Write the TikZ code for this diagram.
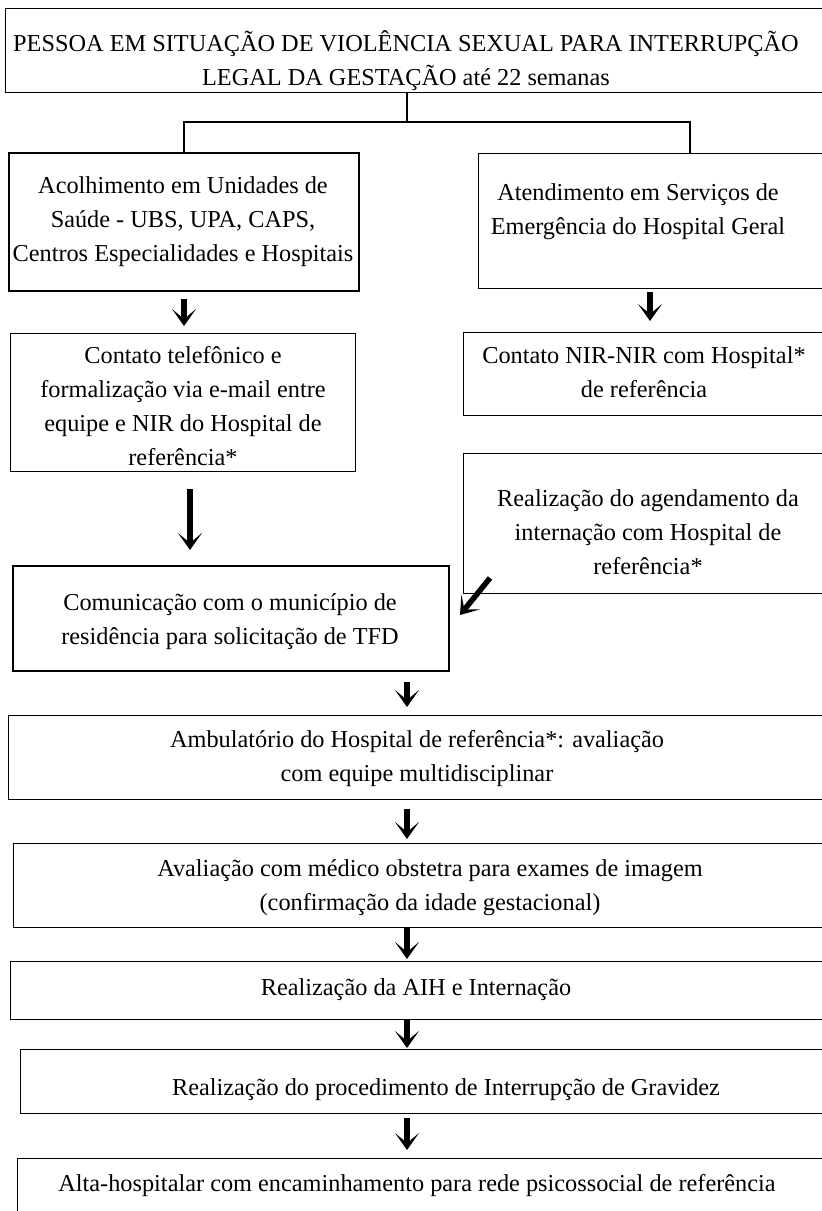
\documentclass[tikz,border=0pt]{standalone}
\usepackage{fontspec}
\setmainfont{Liberation Serif}
\usetikzlibrary{arrows.meta}
\begin{document}
\begin{tikzpicture}[x=1pt,y=-1pt,
  box/.style={draw=black,line width=1.4pt,rectangle,inner sep=0pt,anchor=north west},
  thickbox/.style={box,line width=2.2pt},
  txt/.style={align=center,inner sep=0pt,font=\fontsize{24.3}{34}\selectfont},
  conn/.style={draw=black,line width=1.4pt},
  arr/.style={draw=black,line width=5.5pt,-{Stealth[length=17pt,width=24pt,inset=10pt]}}]
\useasboundingbox (0,0) rectangle (822,1211);
% boxes
\node[box,minimum width=825pt,minimum height=84pt] (top) at (5,8) {};
\node[thickbox,minimum width=350pt,minimum height=138pt] (l1) at (8,152) {};
\node[box,minimum width=352pt,minimum height=135pt] (r1) at (478,153) {};
\node[box,minimum width=345pt,minimum height=138pt] (l2) at (10,333) {};
\node[box,minimum width=367pt,minimum height=83pt] (r2) at (463,332) {};
\node[box,minimum width=367pt,minimum height=140pt] (r3) at (463,453) {};
\node[thickbox,minimum width=436pt,minimum height=105pt] (c) at (12,565) {};
\node[box,minimum width=822pt,minimum height=84pt] (amb) at (8,715) {};
\node[box,minimum width=817pt,minimum height=84pt] (av) at (13,843) {};
\node[box,minimum width=820pt,minimum height=58pt] (aih) at (10,961) {};
\node[box,minimum width=810pt,minimum height=64pt] (proc) at (20,1049) {};
\node[box,minimum width=813pt,minimum height=80pt] (alta) at (17,1158) {};
% texts
\node[txt] (ttop) at (406,61) {PESSOA EM SITUAÇÃO DE VIOLÊNCIA SEXUAL PARA INTERRUPÇÃO\\LEGAL DA GESTAÇÃO até 22 semanas};
\node[txt] (tl1) at (183,222) {Acolhimento em Unidades de\\Saúde - UBS, UPA, CAPS,\\Centros Especialidades e Hospitais};
\node[txt] (tr1) at (638,212) {Atendimento em Serviços de\\Emergência do Hospital Geral};
\node[txt] (tl2) at (183,406) {Contato telefônico e\\formalização via e-mail entre\\equipe e NIR do Hospital de\\referência*};
\node[txt] (tr2) at (644,372) {Contato NIR-NIR com Hospital*\\de referência};
\node[txt] (tr3) at (648,532) {Realização do agendamento da\\internação com Hospital de\\referência*};
\node[txt] (tc) at (230,622) {Comunicação com o município de\\residência para solicitação de TFD};
\node[txt] (tamb) at (417,759) {Ambulatório do Hospital de referência*: avaliação\\com equipe multidisciplinar};
\node[txt] (tav) at (430,888) {Avaliação com médico obstetra para exames de imagem\\(confirmação da idade gestacional)};
\node[txt] (taih) at (416,990) {Realização da AIH e Internação};
\node[txt] (tproc) at (446,1090) {Realização do procedimento de Interrupção de Gravidez};
\node[txt] (talta) at (417,1186) {Alta-hospitalar com encaminhamento para rede psicossocial de referência};
% tree connector
\coordinate (j) at (407,122);
\coordinate (xr) at (690,0);
\draw[conn] (top.south -| j) -- (j);
\draw[conn] (l1.north) |- (j) -| (r1.north -| xr);
% arrows
\coordinate (a1) at (184,0);
\coordinate (a2) at (650,0);
\coordinate (a3) at (190,0);
\coordinate (am) at (407,0);
\coordinate (d1) at (490,578);
\coordinate (d2) at (460,615);
\draw[arr] ([yshift=-7pt]l1.south -| a1) -- ([yshift=7pt]l2.north -| a1);
\draw[arr] ([yshift=-3pt]r1.south -| a2) -- ([yshift=11pt]r2.north -| a2);
\draw[arr] ([yshift=-17pt]l2.south -| a3) -- ([yshift=15pt]c.north -| a3);
\draw[arr] (d1) -- (d2);
\draw[arr] ([yshift=-10pt]c.south -| am) -- ([yshift=8pt]amb.north -| am);
\draw[arr] ([yshift=-9pt]amb.south -| am) -- ([yshift=4pt]av.north -| am);
\draw[arr] (av.south -| am) -- ([yshift=2pt]aih.north -| am);
\draw[arr] (aih.south -| am) -- ([yshift=1pt]proc.north -| am);
\draw[arr] ([yshift=-4pt]proc.south -| am) -- ([yshift=8pt]alta.north -| am);
\end{tikzpicture}
\end{document}
